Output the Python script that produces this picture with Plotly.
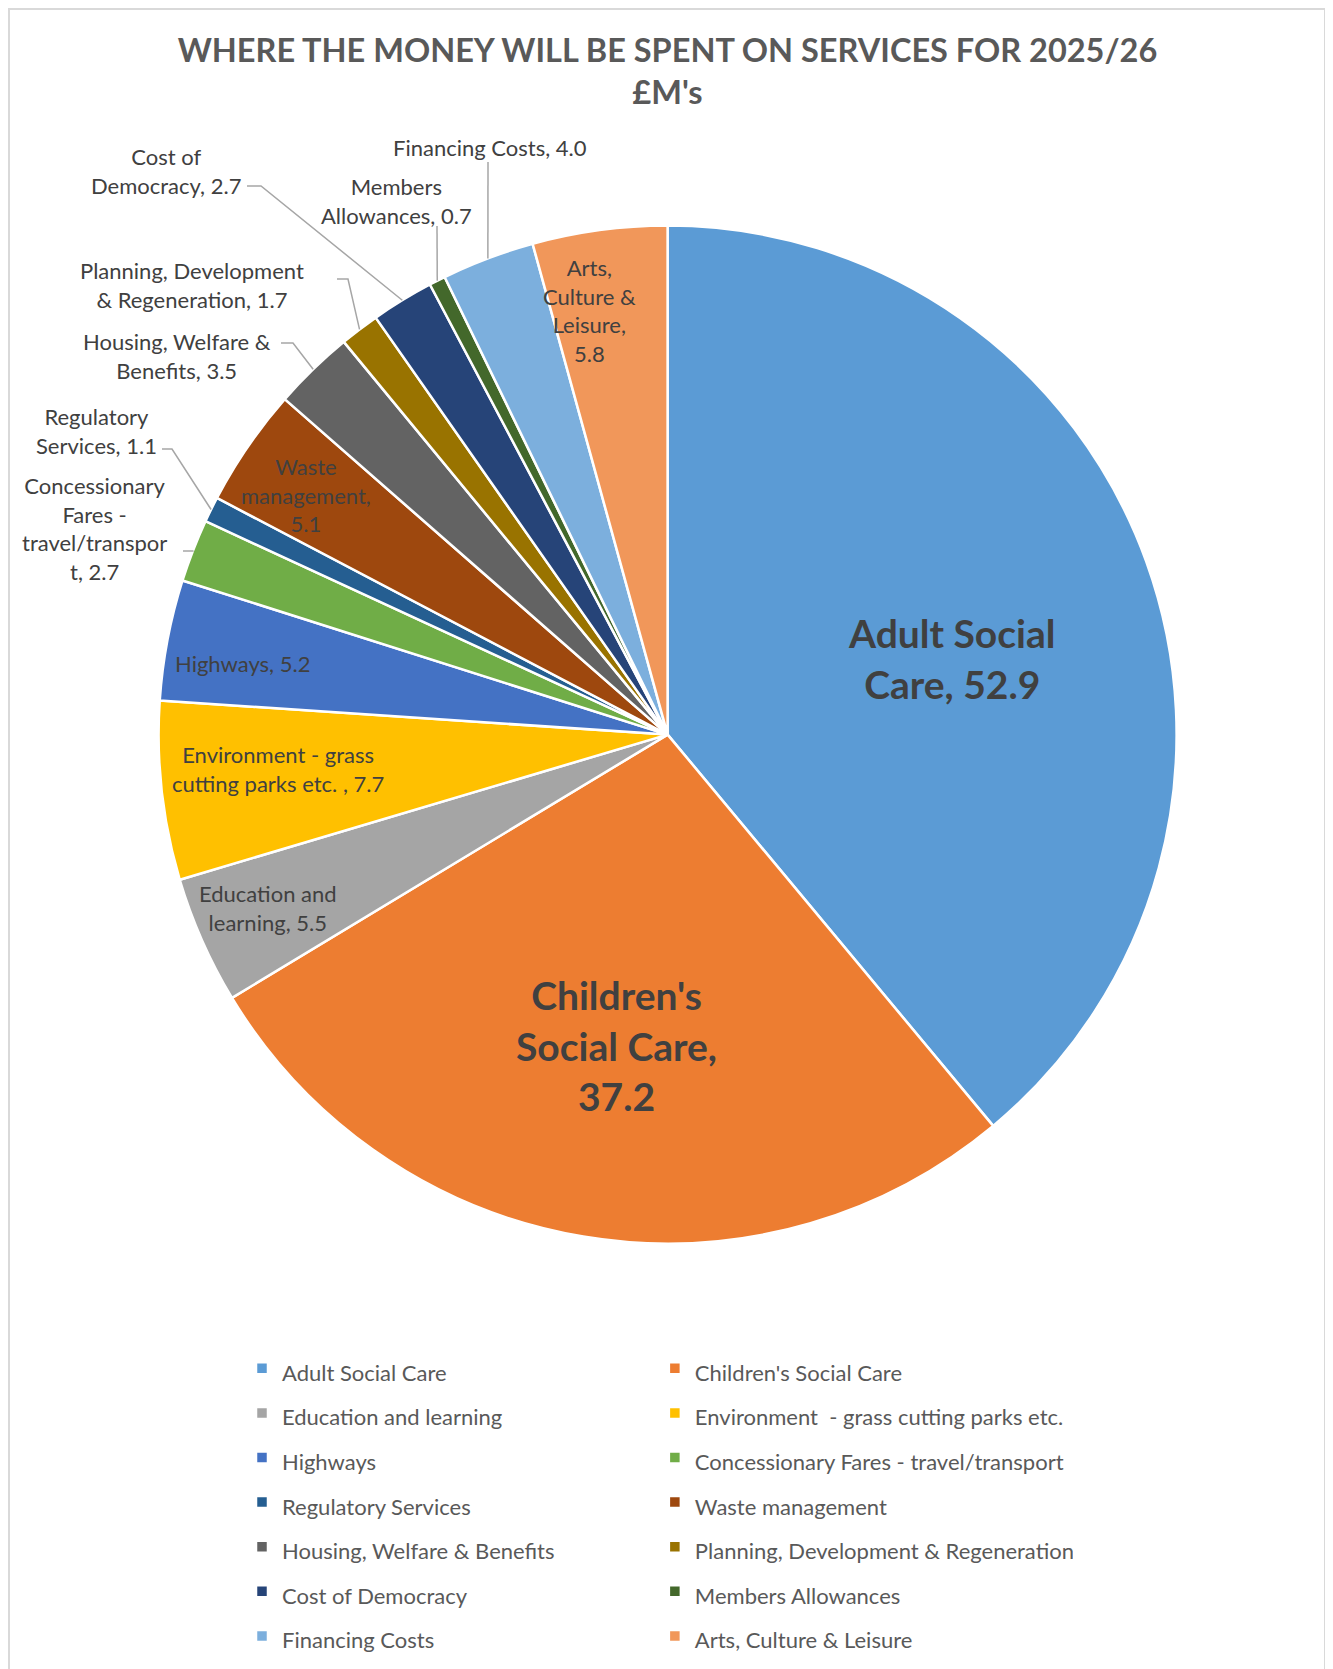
import math
import plotly.graph_objects as go

# ---------------- data ----------------
categories = [
    "Adult Social Care", "Children's Social Care", "Education and learning",
    "Environment  - grass cutting parks etc.", "Highways",
    "Concessionary Fares - travel/transport", "Regulatory Services",
    "Waste management", "Housing, Welfare & Benefits",
    "Planning, Development & Regeneration", "Cost of Democracy",
    "Members Allowances", "Financing Costs", "Arts, Culture & Leisure",
]
values = [52.9, 37.2, 5.5, 7.7, 5.2, 2.7, 1.1, 5.1, 3.5, 1.7, 2.7, 0.7, 4.0, 5.8]

# data-label wording as wrapped in the chart ({v} = value)
label_wrap = [
    "Adult Social<br>Care, {v}",
    "Children's<br>Social Care,<br>{v}",
    "Education and<br>learning, {v}",
    "Environment - grass<br>cutting parks etc. , {v}",
    "Highways, {v}",
    "Concessionary<br>Fares -<br>travel/transpor<br>t, {v}",
    "Regulatory<br>Services, {v}",
    "Waste<br>management,<br>{v}",
    "Housing, Welfare &<br>Benefits, {v}",
    "Planning, Development<br>& Regeneration, {v}",
    "Cost of<br>Democracy, {v}",
    "Members<br>Allowances, {v}",
    "Financing Costs, {v}",
    "Arts,<br>Culture &<br>Leisure,<br>{v}",
]

colors = ["#5B9BD5", "#ED7D31", "#A5A5A5", "#FFC000", "#4472C4", "#70AD47",
          "#255E91", "#9E480E", "#636363", "#997300", "#264478", "#43682B",
          "#7CAFDD", "#F1975A"]

title_text = "WHERE THE MONEY WILL BE SPENT ON SERVICES FOR 2025/26<br>£M's"

# ---------------- layout (page pixels) ----------------
W, H = 1333, 1669
OFF = 8                      # page body margin
MR = 150                     # right margin (keeps the legend at two columns)
PW = W - MR                  # plot-area width
CX, CY, R = 667.6, 734.6, 509.0
FONT = "Lato"
TXT = "#404040"

def px(x):
    return (x - OFF) / PW

def py(y):
    return 1 - (y - OFF) / H

# label placement: (x, y, font size, bold, leader-line start points or None)
label_pos = [
    (951, 659, 39, True, None),
    (616, 1045, 39, True, None),
    (268, 908, 22, False, None),
    (278, 769, 22, False, None),
    (242, 663, 22, False, None),
    (94, 529, 22, False, [(183, 551), (193, 551)]),
    (96, 431, 22, False, [(162, 449), (172, 449)]),
    (306, 495, 22, False, None),
    (177, 356, 22, False, [(281, 343), (293, 343)]),
    (192, 285, 22, False, [(337, 279), (348, 279)]),
    (166, 171, 22, False, [(247, 186), (261, 186)]),
    (396, 201, 22, False, [(437, 226)]),
    (490, 147, 22, False, [(488, 162)]),
    (589, 311, 22, False, None),
]

fig = go.Figure()
fig.add_trace(go.Pie(
    labels=[f'<span style="font-size:22px">{c}</span>' for c in categories],
    values=values,
    sort=False,
    direction="clockwise",
    rotation=0,
    marker=dict(colors=colors, line=dict(color="white", width=2.5)),
    textinfo="none",
    hovertemplate="%{label}: %{value}<extra></extra>",
    domain=dict(x=[px(CX - R), px(CX + R)], y=[py(CY + R), py(CY - R)]),
))

annotations = []
shapes = []
total = sum(values)
cum = 0.0
for i, v in enumerate(values):
    mid = (cum + v / 2) / total * 2 * math.pi
    cum += v
    x, y, fs, bold, lead = label_pos[i]
    txt = label_wrap[i].format(v=f"{v:.1f}")
    if bold:
        txt = f"<b>{txt}</b>"
    annotations.append(dict(
        x=px(x), y=py(y), xref="paper", yref="paper", text=txt,
        showarrow=False, align="center", xanchor="center", yanchor="middle",
        font=dict(family=FONT, size=fs, color=TXT),
    ))
    if lead:
        ex = CX + R * math.sin(mid)
        ey = CY - R * math.cos(mid)
        pts = lead + [(ex, ey)]
        path = "M " + " L ".join(f"{px(a):.5f},{py(b):.5f}" for a, b in pts)
        shapes.append(dict(type="path", path=path, xref="paper", yref="paper",
                           line=dict(color="#A6A6A6", width=1.5)))

# chart-area border
shapes.append(dict(type="rect", xref="paper", yref="paper",
                   x0=px(9), x1=px(1325), y0=py(1700), y1=py(9),
                   line=dict(color="#D9D9D9", width=2), layer="below"))

fig.update_layout(
    width=W, height=H,
    margin=dict(l=0, r=MR, t=0, b=0, pad=0),
    paper_bgcolor="white", plot_bgcolor="white",
    title=dict(text=f"<b>{title_text}</b>", xref="container",
               x=(667.5 - OFF) / W, xanchor="center",
               y=py(61.6), yanchor="middle",
               font=dict(family=FONT, size=32.5, color="#595959")),
    showlegend=True,
    legend=dict(
        orientation="h", x=px(242), xanchor="left", y=py(1341), yanchor="top",
        entrywidth=0.349, entrywidthmode="fraction", traceorder="normal",
        font=dict(family=FONT, size=32, color="#595959"),
        itemclick=False, itemdoubleclick=False,
    ),
    annotations=annotations,
    shapes=shapes,
)

fig.write_html("out.html")
